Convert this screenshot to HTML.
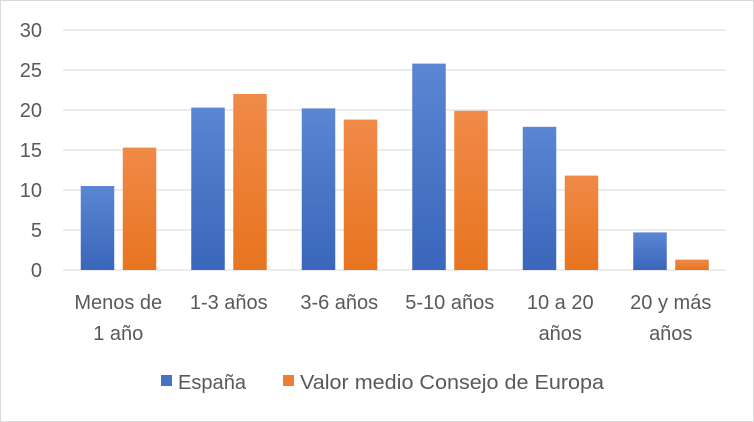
<!DOCTYPE html>
<html><head><meta charset="utf-8"><style>
body{margin:0;background:#fff;}
svg{display:block;font-family:"Liberation Sans",sans-serif;}
</style></head><body>
<svg id="chart" width="754" height="422">
<defs>
<linearGradient id="gb" x1="0" y1="0" x2="0" y2="1"><stop offset="0" stop-color="#5b86d3"/><stop offset="1" stop-color="#3a66bb"/></linearGradient>
<linearGradient id="go" x1="0" y1="0" x2="0" y2="1"><stop offset="0" stop-color="#f08a48"/><stop offset="1" stop-color="#e8741f"/></linearGradient>
</defs>
<rect x="0.5" y="0.5" width="753" height="421" fill="#fff" stroke="#d9d9d9"/>
<g id="grid"></g><g id="bars"></g><g id="labels"></g>
<g>
<rect x="161" y="375" width="11" height="11" fill="#4472c4"/>
<text x="178" y="389" font-size="20" fill="#595959" textLength="68" lengthAdjust="spacingAndGlyphs">España</text>
<rect x="283" y="375" width="11" height="11" fill="#ed7d31"/>
<text x="300" y="389" font-size="20" fill="#595959" textLength="304" lengthAdjust="spacingAndGlyphs">Valor medio Consejo de Europa</text>
</g>
</svg>
<script>
const categories=[["Menos de","1 año"],["1-3 años"],["3-6 años"],["5-10 años"],["10 a 20","años"],["20 y más","años"]];
const espana=[10.5,20.3,20.2,25.8,17.9,4.7];
const consejo=[15.3,22,18.8,19.9,11.8,1.3];
const yTicks=[0,5,10,15,20,25,30];
const NS="http://www.w3.org/2000/svg";
const L=63,R=726,T=30,B=270,max=30;
const y=v=>B-(B-T)*v/max;
const bw=(R-L)/categories.length;
const x=i=>L+i*bw;
function mk(tag,attrs,parent,text){const e=document.createElementNS(NS,tag);for(const k in attrs)e.setAttribute(k,attrs[k]);if(text!==undefined)e.textContent=text;parent.appendChild(e);return e;}
const grid=document.getElementById('grid'),bars=document.getElementById('bars'),labels=document.getElementById('labels');
yTicks.forEach(t=>{
 const l=mk('line',{x1:L,x2:R,y1:y(t),y2:y(t),stroke:'#d9d9d9','stroke-width':1},grid);
 
 
 const tx=mk('text',{x:42,y:y(t)+7,'font-size':20,fill:'#595959','text-anchor':'end'},labels,String(t));
 
 
});
categories.forEach((c,i)=>{
 const cx=x(i)+bw/2;
 const b1=mk('rect',{x:cx-37.5,y:y(espana[i]),width:33.5,height:B-y(espana[i]),fill:'url(#gb)'},bars);
 
 
 const b2=mk('rect',{x:cx+4.5,y:y(consejo[i]),width:33.5,height:B-y(consejo[i]),fill:'url(#go)'},bars);
 
 
 c.forEach((line,j)=>{
  const t=mk('text',{x:cx,y:309+j*31,'font-size':20,fill:'#595959','text-anchor':'middle'},labels,line);
  
  
 });
});
</script>
</body></html>
